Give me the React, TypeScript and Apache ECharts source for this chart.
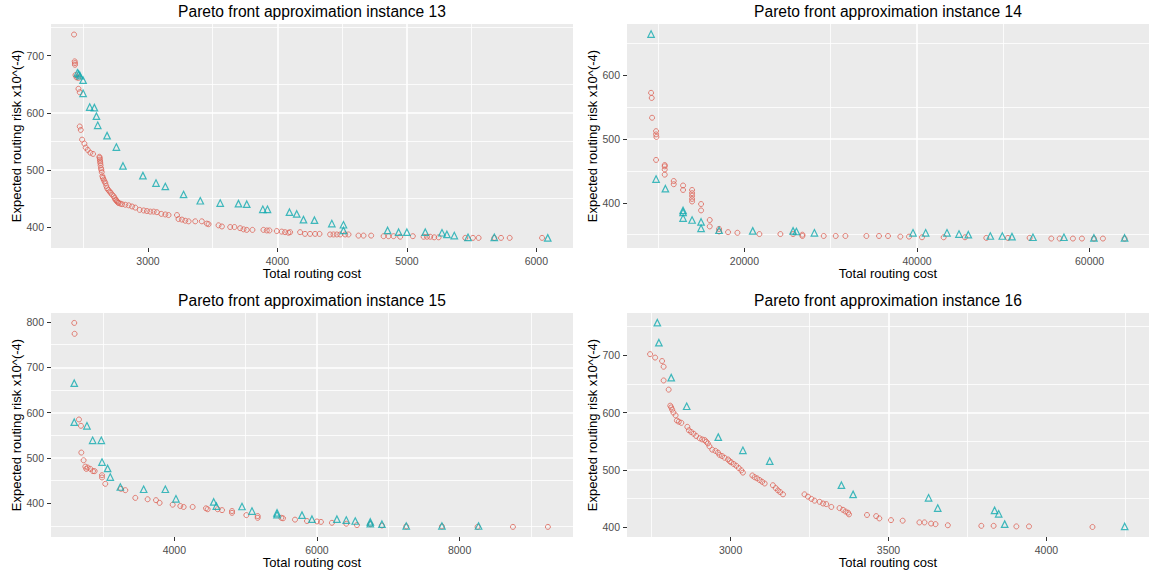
import React, { useEffect, useRef } from "react";
import * as echarts from "echarts";

// ---------- data ----------
const panelTitles = [
  "Pareto front approximation instance 13",
  "Pareto front approximation instance 14",
  "Pareto front approximation instance 15",
  "Pareto front approximation instance 16",
];
const xAxisTitle = "Total routing cost";
const yAxisTitle = "Expected routing risk x10^(-4)";

// instance 13
const inst13Circles = [
  [2429, 737], [2434, 690], [2436, 687], [2436, 684], [2440, 666], [2448, 662], [2462, 661],
  [2463, 642], [2473, 636], [2473, 576], [2481, 570], [2491, 553], [2509, 546], [2519, 539],
  [2535, 535], [2555, 530], [2576, 528], [2625, 523], [2627, 521], [2629, 518], [2630, 515],
  [2632, 512], [2634, 508], [2637, 503], [2640, 500], [2643, 496], [2648, 489], [2652, 486],
  [2658, 483], [2664, 480], [2671, 477], [2678, 472], [2684, 468], [2694, 465], [2704, 462],
  [2712, 460], [2722, 457], [2735, 454], [2742, 451], [2748, 448], [2755, 447], [2761, 445],
  [2768, 443], [2774, 442], [2787, 441], [2800, 440], [2825, 439], [2851, 438], [2877, 436],
  [2902, 434], [2936, 430], [2967, 429], [2992, 428], [3018, 427], [3044, 427], [3069, 426],
  [3103, 423], [3134, 422], [3159, 421], [3224, 421], [3236, 414], [3262, 413], [3288, 411],
  [3314, 410], [3365, 410], [3416, 410], [3455, 406], [3468, 405], [3545, 403], [3571, 401],
  [3635, 400], [3668, 400], [3712, 398], [3738, 396], [3763, 395], [3807, 395], [3892, 395],
  [3918, 394], [3938, 394], [3995, 393], [4033, 392], [4059, 391], [4085, 390], [4098, 391],
  [4175, 391], [4213, 388], [4252, 388], [4291, 388], [4325, 388], [4407, 387], [4433, 387],
  [4459, 387], [4485, 387], [4523, 387], [4549, 387], [4626, 385], [4665, 385], [4724, 385],
  [4820, 384], [4858, 384], [4897, 384], [4948, 383], [5046, 384], [5129, 383], [5155, 383],
  [5180, 383], [5211, 382], [5245, 382], [5451, 381], [5510, 381], [5554, 381], [5675, 381],
  [5727, 381], [5794, 381], [6044, 381],
];
const inst13Triangles = [
  [2455, 670], [2465, 668], [2475, 665], [2499, 657], [2499, 634], [2550, 610], [2586, 609],
  [2602, 594], [2612, 578], [2684, 560], [2756, 540], [2807, 507], [2961, 490], [3062, 477],
  [3134, 471], [3275, 457], [3404, 446], [3558, 442], [3699, 441], [3763, 440], [3887, 431],
  [3923, 431], [4093, 426], [4149, 423], [4201, 413], [4286, 412], [4420, 406], [4510, 404],
  [4510, 394], [4851, 394], [4936, 391], [5000, 391], [5142, 391], [5271, 390], [5309, 387],
  [5366, 385], [5472, 382], [5675, 382], [6088, 381],
];

// instance 14
const inst14Circles = [
  [9185, 572], [9262, 564], [9301, 533], [9764, 512], [9764, 507], [9803, 503], [9764, 467],
  [10769, 459], [10769, 457], [10769, 452], [10769, 444], [11812, 434], [11812, 429],
  [12893, 427], [12893, 420], [13936, 420], [13936, 415], [13936, 411], [13936, 406],
  [13936, 402], [14979, 398], [14979, 388], [15983, 373], [15983, 363], [17064, 359],
  [17064, 355], [18107, 354], [19189, 353], [21738, 351], [24171, 351], [25639, 351],
  [26720, 350], [26720, 348], [29192, 348], [30583, 348], [31703, 348], [34136, 348],
  [35598, 348], [36641, 348], [38069, 347], [39073, 347], [40579, 346], [43089, 346],
  [45560, 346], [48031, 345], [50541, 345], [53050, 345], [55560, 344], [56525, 344],
  [58069, 344], [59112, 344], [60502, 344], [61544, 344], [64054, 344],
];
const inst14Triangles = [
  [9185, 664], [9764, 437], [10846, 422], [12893, 388], [12893, 385], [12893, 376],
  [13936, 373], [14979, 370], [14979, 360], [17064, 357], [20966, 356], [25639, 356],
  [26025, 355], [28111, 353], [39537, 353], [41004, 353], [43475, 353], [44865, 351],
  [45946, 350], [48494, 348], [49884, 348], [51004, 347], [53436, 346], [57027, 346],
  [60502, 345], [64054, 345],
];

// instance 15
const inst15Circles = [
  [2597, 798], [2602, 774], [2663, 585], [2691, 571], [2696, 512], [2728, 495], [2752, 481],
  [2766, 476], [2785, 479], [2822, 476], [2860, 471], [2883, 471], [2986, 462], [2986, 457],
  [3032, 443], [3252, 432], [3313, 429], [3453, 412], [3626, 409], [3743, 407], [3794, 401],
  [3977, 397], [4084, 394], [4131, 392], [4257, 392], [4444, 389], [4467, 387], [4608, 387],
  [4669, 385], [4809, 383], [4809, 379], [5010, 374], [5169, 372], [5169, 368], [5501, 368],
  [5524, 367], [5692, 364], [5860, 361], [6000, 360], [6056, 359], [6210, 357], [6411, 355],
  [6561, 352], [6748, 354], [6911, 351], [7252, 349], [7752, 349], [8252, 348], [8748, 348],
  [9238, 348],
];
const inst15Triangles = [
  [2597, 665], [2597, 579], [2775, 571], [2855, 539], [2976, 539], [2986, 491], [3065, 477],
  [3102, 458], [3243, 436], [3570, 431], [3874, 431], [4023, 410], [4552, 403], [4589, 394],
  [4949, 393], [5089, 383], [5440, 379], [5440, 375], [5790, 374], [5930, 365], [6280, 365],
  [6411, 363], [6537, 361], [6748, 359], [6748, 355], [6911, 354], [7252, 350], [7752, 350],
  [8266, 350],
];

// instance 16
const inst16Circles = [
  [2745, 702], [2761, 696], [2783, 690], [2788, 680], [2788, 656], [2804, 640], [2809, 612],
  [2812, 609], [2815, 605], [2819, 600], [2826, 595], [2830, 586], [2836, 584], [2844, 582],
  [2863, 575], [2868, 569], [2875, 566], [2883, 563], [2891, 559], [2902, 555], [2910, 553],
  [2918, 552], [2923, 549], [2928, 546], [2933, 541], [2942, 535], [2952, 533], [2960, 530],
  [2965, 526], [2973, 524], [2981, 521], [2992, 518], [2997, 515], [3002, 513], [3010, 510],
  [3018, 507], [3026, 503], [3034, 499], [3039, 495], [3069, 490], [3076, 487], [3084, 485],
  [3092, 482], [3100, 479], [3108, 476], [3134, 473], [3143, 468], [3150, 464], [3157, 461],
  [3166, 457], [3234, 457], [3245, 453], [3256, 449], [3266, 446], [3282, 444], [3293, 441],
  [3303, 440], [3319, 435], [3345, 433], [3356, 430], [3364, 427], [3372, 425], [3375, 422],
  [3432, 421], [3461, 419], [3471, 415], [3508, 412], [3545, 411], [3598, 408], [3614, 408],
  [3635, 406], [3649, 405], [3688, 403], [3794, 402], [3833, 402], [3905, 401], [3945, 401],
  [4146, 400],
];
const inst16Triangles = [
  [2768, 757], [2773, 722], [2812, 661], [2861, 611], [2961, 557], [3039, 534], [3124, 515],
  [3351, 473], [3388, 457], [3627, 451], [3656, 433], [3836, 429], [3849, 423], [3868, 405],
  [4248, 401],
];

// axis ranges & ticks
const xRanges = [[2251, 6283], [6396, 66883], [2271, 9590], [2672, 4325]];
const yRanges = [[363.3, 755.4], [329.2, 679.7], [325.7, 819.9], [382.5, 773.9]];
const xIntervals = [1000, 20000, 2000, 500];
const yIntervals = [100, 100, 100, 100];
const xTicks = [
  [3000, 4000, 5000, 6000],
  [20000, 40000, 60000],
  [4000, 6000, 8000],
  [3000, 3500, 4000],
];
const yTicks = [
  [400, 500, 600, 700],
  [400, 500, 600],
  [400, 500, 600, 700, 800],
  [400, 500, 600, 700],
];
const circleSets = [inst13Circles, inst14Circles, inst15Circles, inst16Circles];
const triangleSets = [inst13Triangles, inst14Triangles, inst15Triangles, inst16Triangles];

// ---------- layout / style ----------
const FONT = "'Liberation Sans', Arial, Helvetica, sans-serif";
const GRIDS = [
  { left: 51, top: 24, width: 522, height: 224 },
  { left: 627, top: 24, width: 522, height: 224 },
  { left: 51, top: 313, width: 522, height: 224 },
  { left: 627, top: 313, width: 522, height: 224 },
];
const RED = "#DD6457";
const TEAL = "#12AAAF";

function buildOption() {
  const grid: any[] = [];
  const xAxis: any[] = [];
  const yAxis: any[] = [];
  const series: any[] = [];
  const title: any[] = [];
  const plain = (v: number) => String(v);

  for (let i = 0; i < 4; i++) {
    const g = GRIDS[i];
    grid.push({
      ...g,
      show: true,
      backgroundColor: "#EBEBEB",
      borderWidth: 0,
      containLabel: false,
    });
    title.push({
      text: panelTitles[i],
      left: g.left + g.width / 2,
      top: g.top - 22,
      textAlign: "center",
      padding: 0,
      textStyle: { color: "#000", fontSize: 15.6, fontWeight: "normal", fontFamily: FONT, lineHeight: 18 },
    });
    const common = {
      type: "value",
      gridIndex: i,
      nameLocation: "middle",
      nameTextStyle: { color: "#000", fontSize: 13, fontFamily: FONT },
      axisLine: { show: false },
      splitLine: { show: true, showMinLine: false, showMaxLine: false, lineStyle: { color: "#FFFFFF", width: 1.6 } },
      minorTick: { show: false, splitNumber: 2 },
      minorSplitLine: { show: true, lineStyle: { color: "#FFFFFF", width: 0.8 } },
    };
    xAxis.push({
      ...common,
      min: xRanges[i][0],
      max: xRanges[i][1],
      minInterval: xIntervals[i],
      maxInterval: xIntervals[i],
      name: xAxisTitle,
      nameGap: 19,
      axisTick: { show: true, length: 4, lineStyle: { color: "#333333", width: 1 }, customValues: xTicks[i] },
      axisLabel: {
        color: "#4D4D4D", fontSize: 10.5, fontFamily: FONT, margin: 7,
        customValues: xTicks[i], formatter: plain,
      },
    });
    yAxis.push({
      ...common,
      min: yRanges[i][0],
      max: yRanges[i][1],
      minInterval: yIntervals[i],
      maxInterval: yIntervals[i],
      name: yAxisTitle,
      nameGap: 27,
      axisTick: { show: true, length: 4, lineStyle: { color: "#333333", width: 1 }, customValues: yTicks[i] },
      axisLabel: {
        color: "#4D4D4D", fontSize: 10.5, fontFamily: FONT, margin: 7,
        customValues: yTicks[i], formatter: plain,
      },
    });
    series.push({
      type: "scatter",
      xAxisIndex: i,
      yAxisIndex: i,
      symbol: "circle",
      symbolSize: 5,
      silent: true,
      data: circleSets[i],
      itemStyle: { color: "rgba(0,0,0,0)", borderColor: RED, borderWidth: 1 },
    });
    series.push({
      type: "scatter",
      xAxisIndex: i,
      yAxisIndex: i,
      symbol: "triangle",
      symbolSize: 6.5,
      silent: true,
      data: triangleSets[i],
      itemStyle: { color: "rgba(0,0,0,0)", borderColor: TEAL, borderWidth: 1.2 },
    });
  }

  return {
    animation: false,
    backgroundColor: "#FFFFFF",
    title,
    grid,
    xAxis,
    yAxis,
    series,
  };
}

export default function App() {
  const ref = useRef<HTMLDivElement>(null);
  useEffect(() => {
    if (!ref.current) return;
    const chart = echarts.init(ref.current, null, { renderer: "svg" });
    chart.setOption(buildOption() as any);
    return () => chart.dispose();
  }, []);
  return (
    <div
      ref={ref}
      style={{ position: "fixed", left: 0, top: 0, width: 1152, height: 574, background: "#fff" }}
    />
  );
}
